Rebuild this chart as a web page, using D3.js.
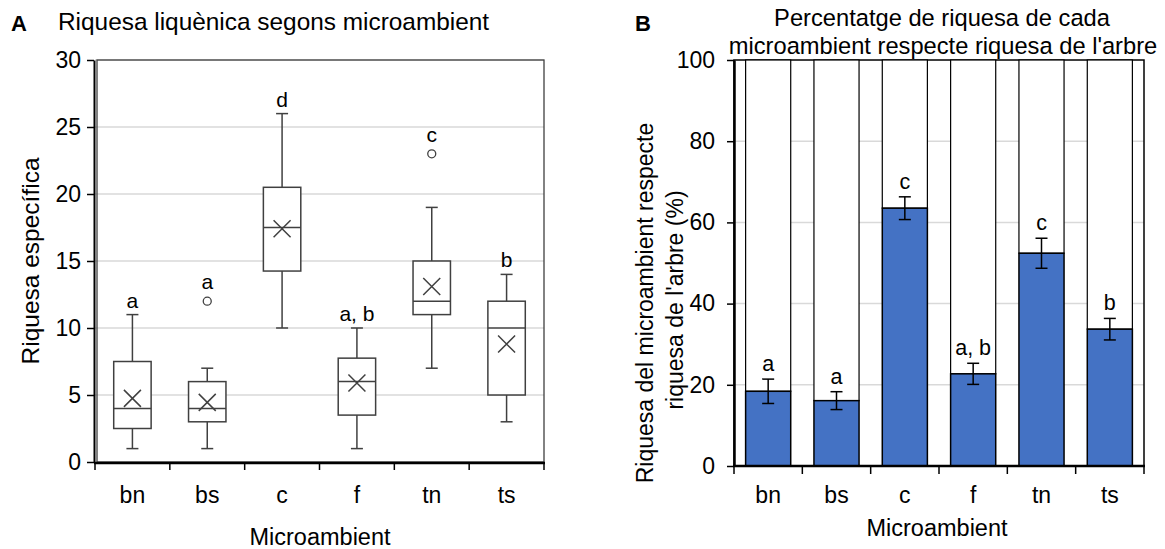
<!DOCTYPE html>
<html>
<head>
<meta charset="utf-8">
<script src="https://cdn.jsdelivr.net/npm/d3@7"></script>
<style>
  body { margin: 0; background: #fff; }
  svg text { font-family: "Liberation Sans", Arial, sans-serif; fill: #000; }
  .axis path, .axis line { stroke: #000; }
</style>
</head>
<body>
<div id="chart"></div>
<script>
// data
const categories = ["bn", "bs", "c", "f", "tn", "ts"];

// panel A - box plots
const boxMin    = [1, 1, 10, 1, 7, 3];
const boxQ1     = [2.5, 3, 14.25, 3.5, 11, 5];
const boxMedian = [4, 4, 17.5, 6, 12, 10];
const boxQ3     = [7.5, 6, 20.5, 7.75, 15, 12];
const boxMax    = [11, 7, 26, 10, 19, 14];
const boxMean   = [4.75, 4.45, 17.4, 5.9, 13.1, 8.8];
const boxOutliers = [[], [12], [], [], [23], []];
const boxLetters = ["a", "a", "d", "a, b", "c", "b"];
const yTicksA = [0, 5, 10, 15, 20, 25, 30];

// panel B - percentage bars
const pctValues = [18.4, 16.1, 63.5, 22.7, 52.4, 33.7];
const pctError  = [3.0, 2.2, 2.8, 2.6, 3.7, 2.65];
const pctLetters = ["a", "a", "c", "a, b", "c", "b"];
const yTicksB = [0, 20, 40, 60, 80, 100];

const W = 1165, H = 549;
const svg = d3.select("#chart").append("svg")
  .attr("width", W).attr("height", H);

const gridColor = "#d9d9d9";
const boxColor = "#404040";

// ---------- panel A ----------
function BoxChart(){
  const left = 95, right = 544, top = 60, bottom = 462;
  const g = svg.append("g");

  const x = d3.scaleBand().domain(categories).range([left, right]);
  const y = d3.scaleLinear().domain([0, 30]).range([bottom, top]);

  // gridlines
  g.selectAll(".gridA").data(yTicksA.filter(d => d > 0)).join("line")
    .attr("x1", left).attr("x2", right)
    .attr("y1", d => y(d)).attr("y2", d => y(d))
    .attr("stroke", gridColor).attr("stroke-width", 1.5);

  // plot frame
  g.append("rect")
    .attr("x", left + 2).attr("y", top)
    .attr("width", right - left - 2).attr("height", bottom - top)
    .attr("fill", "none").attr("stroke", "#404040").attr("stroke-width", 1.3);

  // y axis
  const yAxis = g.append("g").attr("class", "axis")
    .attr("transform", `translate(${left - 1},0)`)
    .call(d3.axisLeft(y).tickValues(yTicksA).tickSize(7).tickSizeOuter(0).tickPadding(6));
  yAxis.select(".domain").attr("stroke-width", 2);
  yAxis.selectAll(".tick line").attr("stroke-width", 1.5);
  yAxis.selectAll("text").style("font-size", "23px");

  // x axis line + ticks at category boundaries
  g.append("line").attr("x1", left - 1).attr("x2", right + 1)
    .attr("y1", bottom + 1).attr("y2", bottom + 1)
    .attr("stroke", "#000").attr("stroke-width", 2.5);
  const bounds = categories.map(c => x(c)).concat([x.range()[1]]);
  g.selectAll(".xtA").data(bounds).join("line")
    .attr("x1", d => d).attr("x2", d => d)
    .attr("y1", bottom + 1).attr("y2", bottom + 8)
    .attr("stroke", "#000").attr("stroke-width", 1.5);
  g.selectAll(".xlA").data(categories).join("text")
    .attr("x", d => x(d) + x.bandwidth() / 2).attr("y", 503)
    .attr("text-anchor", "middle").style("font-size", "23px")
    .text(d => d);

  // boxes
  const bw = x.bandwidth() * 0.5;
  const cap = 12;
  categories.forEach((c, i) => {
    const cx = x(c) + x.bandwidth() / 2;
    const bx = g.append("g").attr("stroke", boxColor).attr("stroke-width", 1.5).attr("fill", "none");
    // whiskers
    bx.append("line").attr("x1", cx).attr("x2", cx).attr("y1", y(boxMax[i])).attr("y2", y(boxQ3[i]));
    bx.append("line").attr("x1", cx).attr("x2", cx).attr("y1", y(boxQ1[i])).attr("y2", y(boxMin[i]));
    bx.append("line").attr("x1", cx - cap / 2).attr("x2", cx + cap / 2).attr("y1", y(boxMax[i])).attr("y2", y(boxMax[i]));
    bx.append("line").attr("x1", cx - cap / 2).attr("x2", cx + cap / 2).attr("y1", y(boxMin[i])).attr("y2", y(boxMin[i]));
    // box
    bx.append("rect").attr("x", cx - bw / 2).attr("y", y(boxQ3[i]))
      .attr("width", bw).attr("height", y(boxQ1[i]) - y(boxQ3[i])).attr("fill", "#fff");
    bx.append("line").attr("x1", cx - bw / 2).attr("x2", cx + bw / 2)
      .attr("y1", y(boxMedian[i])).attr("y2", y(boxMedian[i]));
    // mean marker
    const m = y(boxMean[i]), s = 8.5;
    bx.append("path").attr("d", `M${cx - s},${m - s}L${cx + s},${m + s}M${cx - s},${m + s}L${cx + s},${m - s}`);
    // outliers
    boxOutliers[i].forEach(o => {
      bx.append("circle").attr("cx", cx).attr("cy", y(o)).attr("r", 4).attr("stroke-width", 1.3);
    });
    // significance letter
    const topVal = boxOutliers[i].length ? d3.max(boxOutliers[i]) : boxMax[i];
    const off = boxOutliers[i].length ? 12 : 7;
    g.append("text").attr("x", cx).attr("y", y(topVal) - off)
      .attr("text-anchor", "middle").style("font-size", "21px")
      .text(boxLetters[i]);
  });

  // titles
  g.append("text").attr("x", 11).attr("y", 31)
    .style("font-size", "22px").style("font-weight", "bold").text("A");
  g.append("text").attr("x", 58).attr("y", 30)
    .style("font-size", "24.4px").text("Riquesa liquènica segons microambient");
  g.append("text").attr("transform", `translate(39,${(top + bottom) / 2}) rotate(-90)`)
    .attr("text-anchor", "middle").style("font-size", "24.5px").text("Riquesa específica");
  g.append("text").attr("x", 320).attr("y", 545)
    .attr("text-anchor", "middle").style("font-size", "23.5px").text("Microambient");
}

// ---------- panel B ----------
function PctChart(){
  const left = 734, right = 1144, top = 60, bottom = 466;
  const g = svg.append("g");

  const x = d3.scaleBand().domain(categories).range([left, right])
    .paddingInner(0.34).paddingOuter(0.17);
  const y = d3.scaleLinear().domain([0, 100]).range([bottom, top]);

  g.selectAll(".gridB").data(yTicksB.filter(d => d > 0 && d < 100)).join("line")
    .attr("x1", left).attr("x2", right)
    .attr("y1", d => y(d)).attr("y2", d => y(d))
    .attr("stroke", gridColor).attr("stroke-width", 1.5);

  g.append("rect").attr("x", left).attr("y", top)
    .attr("width", right - left).attr("height", bottom - top)
    .attr("fill", "none").attr("stroke", "#000").attr("stroke-width", 1.5);

  // remainder (white) bars up to 100
  g.selectAll(".rest").data(categories).join("rect")
    .attr("x", d => x(d)).attr("width", x.bandwidth())
    .attr("y", y(100)).attr("height", (d, i) => y(pctValues[i]) - y(100))
    .attr("fill", "#fff").attr("stroke", "#000").attr("stroke-width", 1.2);

  // value bars
  g.selectAll(".bar").data(categories).join("rect")
    .attr("x", d => x(d)).attr("width", x.bandwidth())
    .attr("y", (d, i) => y(pctValues[i])).attr("height", (d, i) => y(0) - y(pctValues[i]))
    .attr("fill", "#4472c4").attr("stroke", "#000").attr("stroke-width", 1.5);

  // error bars
  const cap = 12;
  categories.forEach((c, i) => {
    const cx = x(c) + x.bandwidth() / 2;
    const hi = y(pctValues[i] + pctError[i]), lo = y(pctValues[i] - pctError[i]);
    const eb = g.append("g").attr("stroke", "#000").attr("stroke-width", 1.5);
    eb.append("line").attr("x1", cx).attr("x2", cx).attr("y1", hi).attr("y2", lo);
    eb.append("line").attr("x1", cx - cap / 2).attr("x2", cx + cap / 2).attr("y1", hi).attr("y2", hi);
    eb.append("line").attr("x1", cx - cap / 2).attr("x2", cx + cap / 2).attr("y1", lo).attr("y2", lo);
    g.append("text").attr("x", cx).attr("y", hi - 8)
      .attr("text-anchor", "middle").style("font-size", "21.5px").text(pctLetters[i]);
  });

  const yAxis = g.append("g").attr("class", "axis")
    .attr("transform", `translate(${left},0)`)
    .call(d3.axisLeft(y).tickValues(yTicksB).tickSize(7).tickSizeOuter(0).tickPadding(12));
  yAxis.select(".domain").attr("stroke-width", 2.5);
  yAxis.selectAll(".tick line").attr("stroke-width", 1.5);
  yAxis.selectAll("text").style("font-size", "23px");

  g.append("line").attr("x1", left - 1).attr("x2", right + 1)
    .attr("y1", bottom).attr("y2", bottom)
    .attr("stroke", "#000").attr("stroke-width", 2.5);
  const step = x.step();
  const bounds = categories.map(c => x(c) - step * x.paddingInner() / 2)
    .concat([x(categories[categories.length - 1]) + x.bandwidth() + step * x.paddingInner() / 2]);
  g.selectAll(".xtB").data(bounds).join("line")
    .attr("x1", d => d).attr("x2", d => d)
    .attr("y1", bottom).attr("y2", bottom + 8)
    .attr("stroke", "#000").attr("stroke-width", 1.5);
  g.selectAll(".xlB").data(categories).join("text")
    .attr("x", d => x(d) + x.bandwidth() / 2).attr("y", 503)
    .attr("text-anchor", "middle").style("font-size", "23px")
    .text(d => d);

  // titles
  g.append("text").attr("x", 635).attr("y", 31)
    .style("font-size", "22px").style("font-weight", "bold").text("B");
  g.append("text").attr("x", 942).attr("y", 26)
    .attr("text-anchor", "middle").style("font-size", "23.7px").text("Percentatge de riquesa de cada");
  g.append("text").attr("x", 943).attr("y", 54)
    .attr("text-anchor", "middle").style("font-size", "23.7px").text("microambient respecte riquesa de l'arbre");
  g.append("text").attr("transform", `translate(653,303) rotate(-90)`)
    .attr("text-anchor", "middle").style("font-size", "23px").text("Riquesa del microambient respecte");
  g.append("text").attr("transform", `translate(683,300) rotate(-90)`)
    .attr("text-anchor", "middle").style("font-size", "23px").text("riquesa de l'arbre (%)");
  g.append("text").attr("x", 937).attr("y", 536)
    .attr("text-anchor", "middle").style("font-size", "23.5px").text("Microambient");
}

BoxChart();
PctChart();
</script>
</body>
</html>
